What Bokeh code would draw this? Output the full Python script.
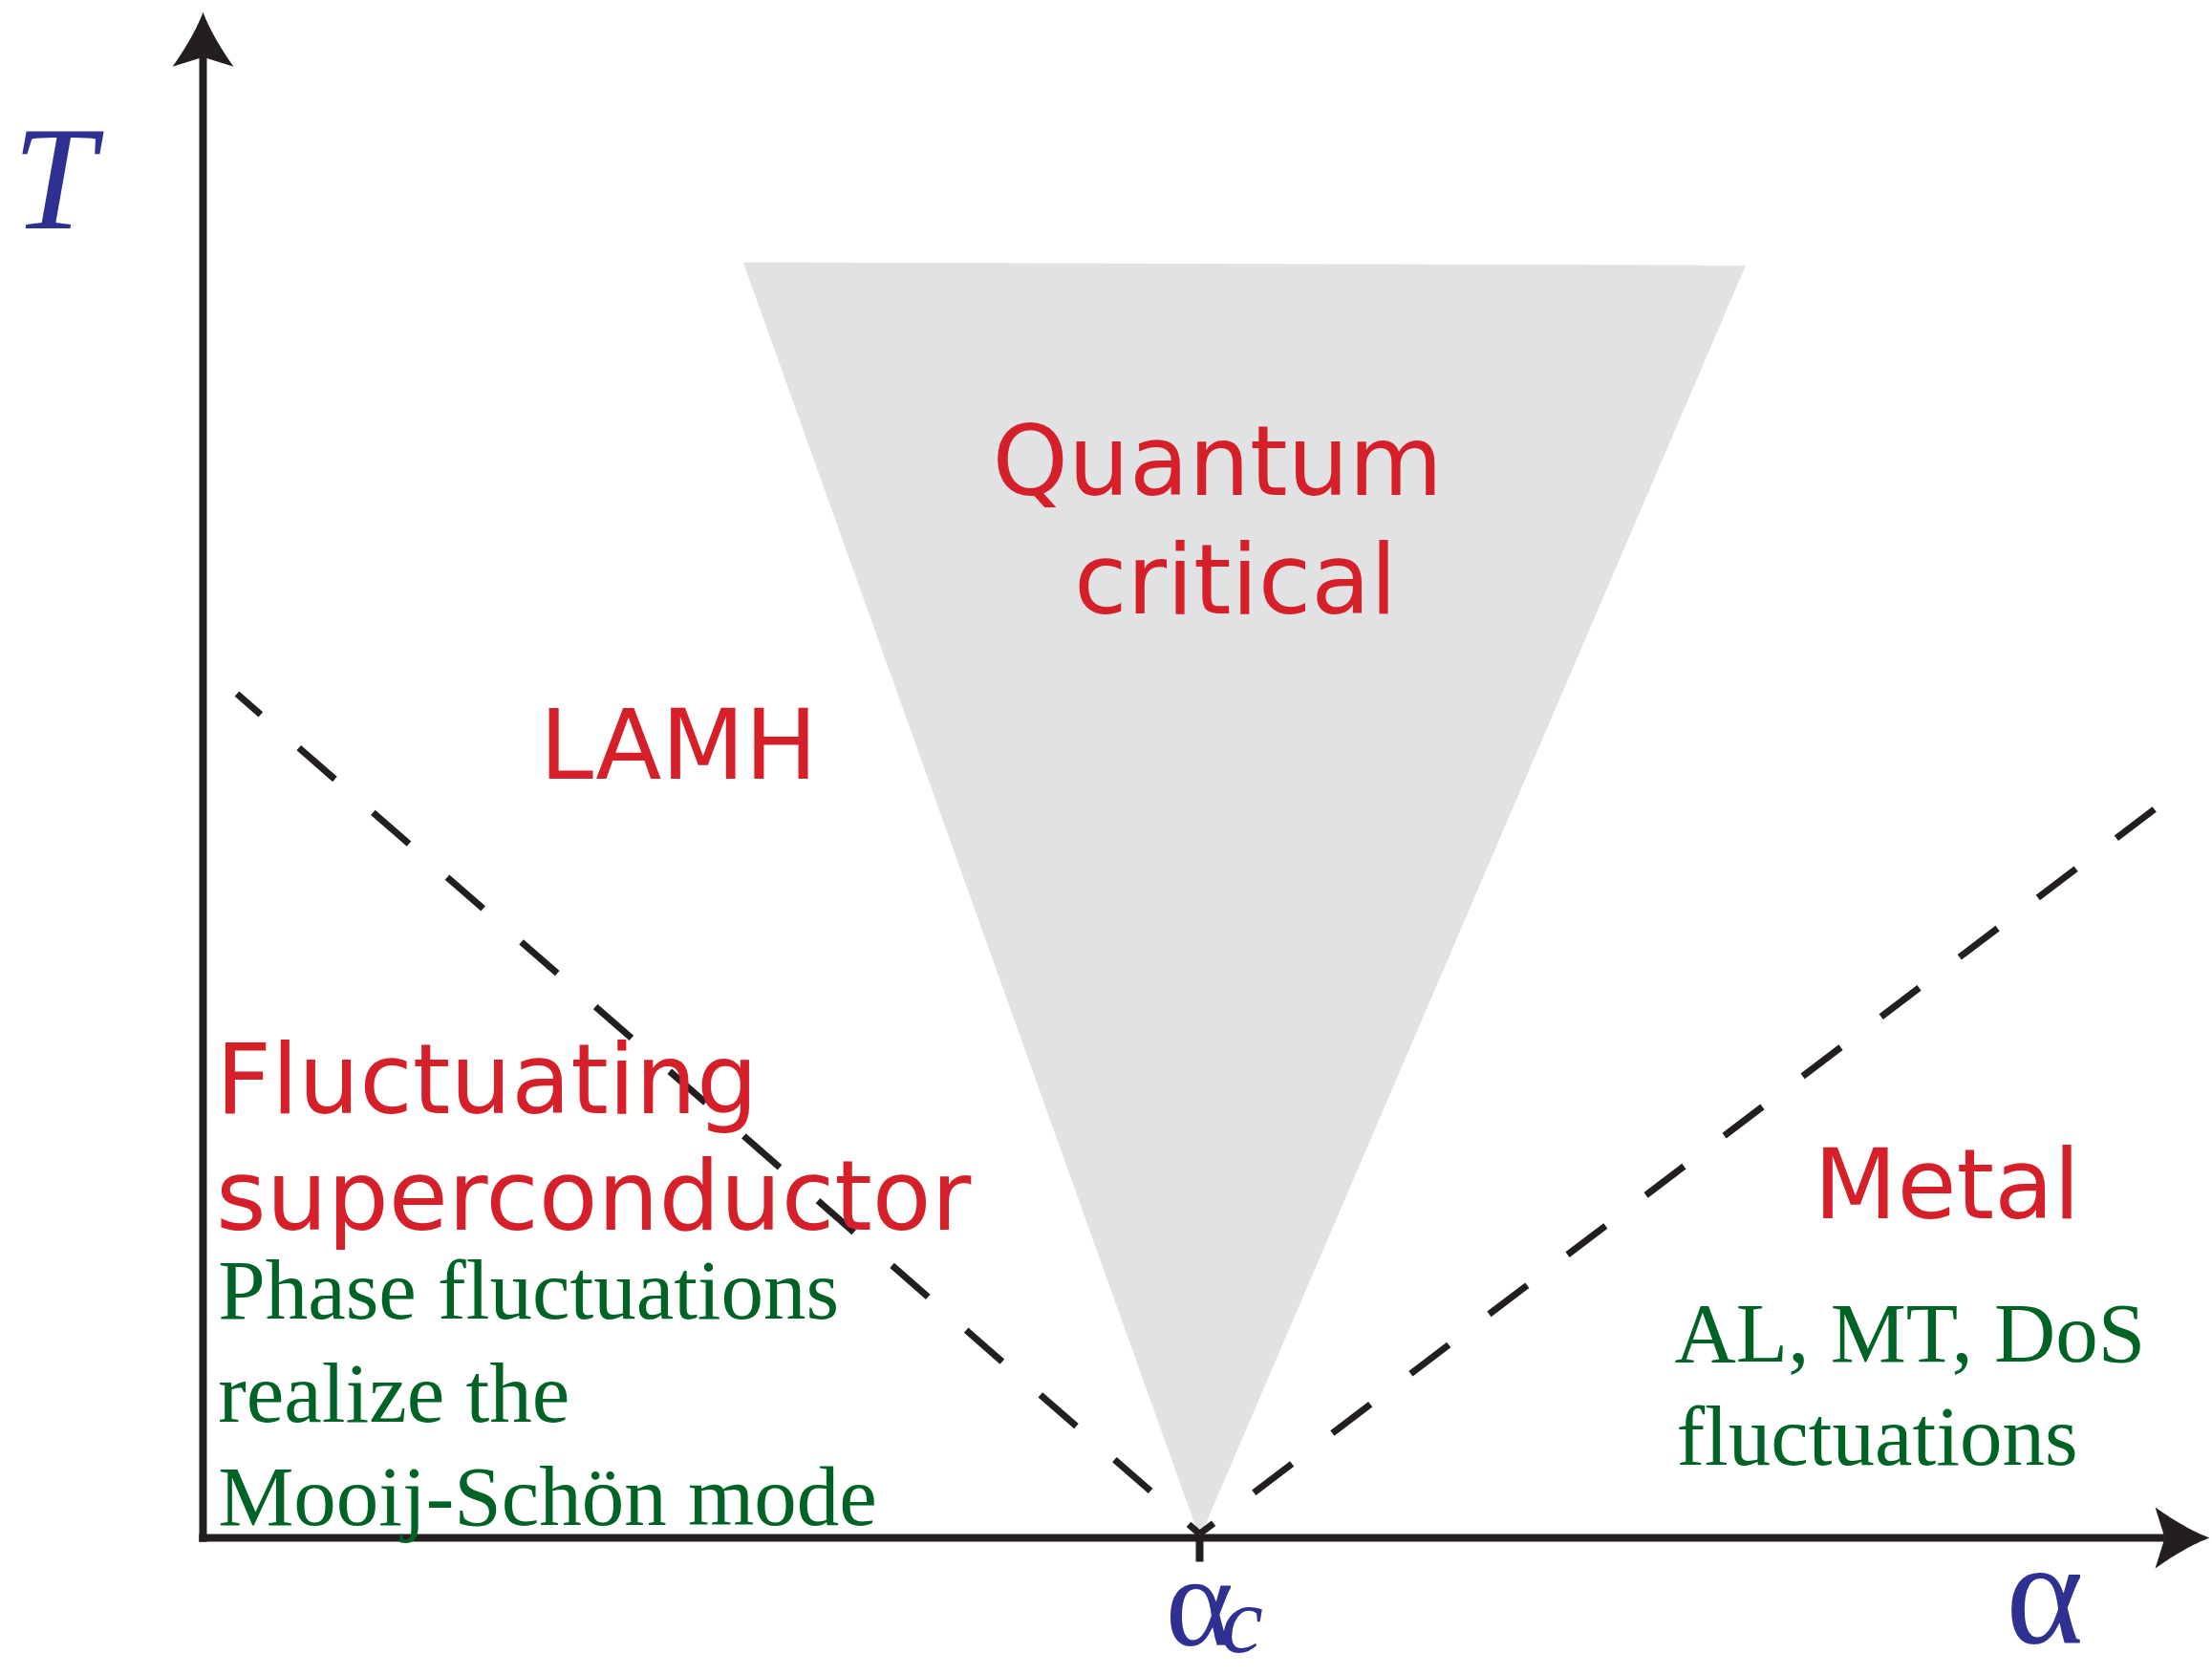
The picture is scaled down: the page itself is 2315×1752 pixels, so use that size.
import numpy as np
from bokeh.plotting import figure
from bokeh.models import Range1d
from bokeh.core.properties import value
from bokeh.embed import file_html
from bokeh.resources import INLINE

# ---------------- data (alpha in units of alpha_c, T on the same scale) ----------------
alpha_c = 1.0
alpha_max = 2.0135         # end of the alpha axis (arrow tip)
T_max = 1.531              # end of the T axis (arrow tip)

# quantum-critical fan (grey region)
qc_alpha = [0.542, 1.548, 1.000]
qc_T = [1.280, 1.277, 0.000]

# crossover lines (dashed)
lamh_alpha = [0.034, 1.000]
lamh_T = [0.847, 0.004]
metal_alpha = [1.958, 1.000]
metal_T = [0.731, 0.004]

# region names (red)
region_labels = ["Quantum", "critical", "LAMH", "Metal"]
region_label_alpha = [1.018, 1.036, 0.477, 1.750]
region_label_T = [1.048, 0.929, 0.763, 0.322]

sc_labels = ["Fluctuating", "superconductor"]
sc_label_alpha = [0.013, 0.013]
sc_label_T = [0.428, 0.311]

# mechanisms (green)
note_labels = ["Phase fluctuations", "realize the", "Mooij-Schön mode",
               "AL, MT, DoS", "fluctuations"]
note_label_alpha = [0.015, 0.015, 0.015, 1.4765, 1.4784]
note_label_T = [0.2205, 0.117, 0.0134, 0.1774, 0.0738]

# axis labels
T_label_pos = (-0.191, 1.315)
alpha_label_pos = (1.848, -0.1045)
alpha_c_label_pos = (1.0, -0.1064)
alpha_c_sub_pos = (1.021, -0.1141)

# ---------------- layout / style ----------------
PX = 1043.0                  # pixels per data unit
ORIGIN = (212.0, 1609.0)     # page pixel of (alpha=0, T=0)
MARGIN = 0
W, H = 2315, 1752

x0 = (MARGIN - ORIGIN[0]) / PX
x1 = (MARGIN + W - ORIGIN[0]) / PX
y1 = (ORIGIN[1] - MARGIN) / PX
y0 = (ORIGIN[1] - MARGIN - H) / PX

BASELINE_FIX = 0.33          # empirical shift of the rendered baseline (fraction of font size)


def lift(ts, size):
    return [t + BASELINE_FIX * size / PX for t in ts]


BLACK = "#231F20"
GREY = "#E1E2E3"
RED = "#D5202A"
GREEN = "#006326"
BLUE = "#2E3192"

p = figure(width=W, height=H, x_range=Range1d(x0, x1), y_range=Range1d(y0, y1),
           output_backend="svg", toolbar_location=None,
           x_axis_location=None, y_axis_location=None,
           min_border=0, min_border_left=0, min_border_right=0,
           min_border_top=0, min_border_bottom=0)
p.grid.visible = False
p.outline_line_color = None
p.background_fill_color = "white"
p.border_fill_color = "white"

# grey fan
p.patch(qc_alpha, qc_T, fill_color=GREY, line_color=None)

# dashed crossover lines
p.line(lamh_alpha, lamh_T, line_color=BLACK, line_width=7,
       line_dash="50 53", line_dash_offset=17, line_cap="butt")
p.line(metal_alpha, metal_T, line_color=BLACK, line_width=7,
       line_dash="50 53", line_dash_offset=0, line_cap="butt")


def arrow_head(tip, u):
    L, h, n = 57 / PX, 32 / PX, 47 / PX
    tip = np.array(tip)
    u = np.array(u, dtype=float)
    v = np.array([-u[1], u[0]])
    t = np.linspace(0, 1, 20)[:, None]

    def bez(p0, p1, p2):
        return (1 - t) ** 2 * p0 + 2 * (1 - t) * t * p1 + t ** 2 * p2

    c1 = tip - L * u + h * v
    c2 = tip - L * u - h * v
    side1 = bez(tip, tip - 0.45 * L * u + 0.3 * h * v, c1)
    side2 = bez(c2, tip - 0.45 * L * u - 0.3 * h * v, tip)
    notch = (tip - n * u)[None, :]
    pts = np.vstack([side1, notch, side2])
    return pts[:, 0], pts[:, 1]


# axes
p.line([-0.004, alpha_max - 0.03], [0, 0], line_color=BLACK, line_width=8)
p.line([0, 0], [-0.004, T_max - 0.03], line_color=BLACK, line_width=8)
hx, hy = arrow_head((alpha_max, 0.0), (1, 0))
p.patch(hx, hy, fill_color=BLACK, line_color=None)
hx, hy = arrow_head((0.0, T_max), (0, 1))
p.patch(hx, hy, fill_color=BLACK, line_color=None)

# tick at alpha_c
p.line([alpha_c, alpha_c], [0, -25 / PX], line_color=BLACK, line_width=8)

# red region labels
p.text(region_label_alpha, lift(region_label_T, 101), text=region_labels,
       text_font=value("DejaVu Sans"), text_font_size=value("101px"),
       text_color=RED, text_align="center", text_baseline="alphabetic")
p.text(sc_label_alpha, lift(sc_label_T, 101), text=sc_labels,
       text_font=value("DejaVu Sans"), text_font_size=value("101px"),
       text_color=RED, text_align="left", text_baseline="alphabetic")

# green notes
p.text(note_label_alpha, lift(note_label_T, 89), text=note_labels,
       text_font=value("Liberation Serif"), text_font_size=value("89px"),
       text_color=GREEN, text_align="left", text_baseline="alphabetic")

# axis labels
p.text([T_label_pos[0]], lift([T_label_pos[1]], 155), text=["T"],
       text_font=value("Liberation Serif"), text_font_style="italic",
       text_font_size=value("155px"), text_color=BLUE,
       text_align="left", text_baseline="alphabetic")
p.text([alpha_label_pos[0]], lift([alpha_label_pos[1]], 155), text=["α"],
       text_font=value("Liberation Serif"), text_font_size=value("155px"),
       text_color=BLUE, text_align="center", text_baseline="alphabetic")
p.text([alpha_c_label_pos[0]], lift([alpha_c_label_pos[1]], 136), text=["α"],
       text_font=value("Liberation Serif"), text_font_size=value("136px"),
       text_color=BLUE, text_align="center", text_baseline="alphabetic")
p.text([alpha_c_sub_pos[0]], lift([alpha_c_sub_pos[1]], 100), text=["c"],
       text_font=value("Liberation Serif"), text_font_style="italic",
       text_font_size=value("100px"), text_color=BLUE,
       text_align="left", text_baseline="alphabetic")

open("out.html", "w").write(file_html(p, INLINE))
